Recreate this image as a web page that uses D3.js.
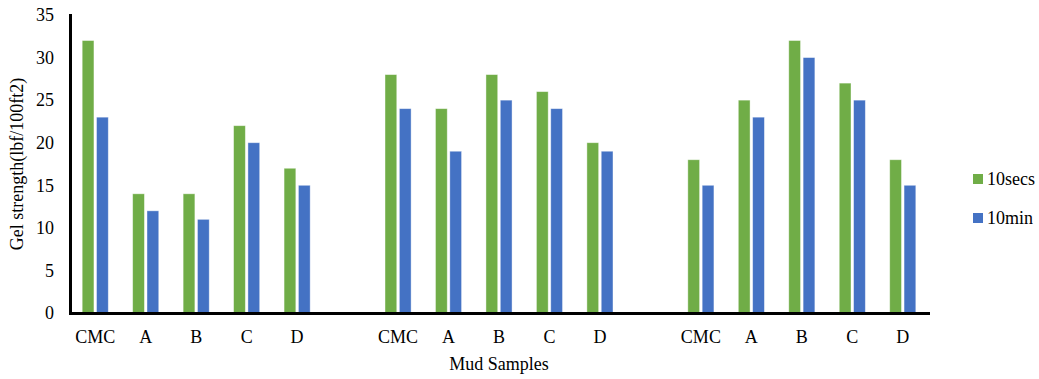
<!DOCTYPE html>
<html>
<head>
<meta charset="utf-8">
<script src="https://cdn.jsdelivr.net/npm/d3@7"></script>
<style>
  body { margin: 0; background: #fff; }
  svg { display: block; font-family: "Liberation Serif", "Times New Roman", serif; }
</style>
</head>
<body>
<svg id="chart"></svg>
<script>
// sample names in each block, three blocks separated by an empty slot
const samples = ["CMC", "A", "B", "C", "D"];
const blocks = ["b1", "b2", "b3"];
const seriesKeys = ["10secs", "10min"];
const secs10 = [32, 14, 14, 22, 17, 28, 24, 28, 26, 20, 18, 25, 32, 27, 18];
const min10 = [23, 12, 11, 20, 15, 24, 19, 25, 24, 19, 15, 23, 30, 25, 15];
const yTicks = [0, 5, 10, 15, 20, 25, 30, 35];
const colors = ["#70AD47", "#4472C4"];

const width = 1039, height = 379;
const marginLeft = 70, marginRight = 111, marginTop = 15, marginBottom = 66;

// build slots: 5 samples, gap, 5 samples, gap, 5 samples
let slots = [];
let rows = [];
blocks.forEach((b, bi) => {
  samples.forEach((s, si) => {
    const i = bi * samples.length + si;
    slots.push(b + "-" + s);
    rows.push({key: b + "-" + s, label: s, values: [secs10[i], min10[i]]});
  });
  if (bi < blocks.length - 1) slots.push("gap" + bi);
});

const x0 = d3.scaleBand(slots, [marginLeft, width - marginRight]);
const x1 = d3.scaleBand(seriesKeys, [0, x0.bandwidth()])
  .paddingInner(0.18).paddingOuter(0.85);
const y = d3.scaleLinear([0, 35], [height - marginBottom, marginTop]);
const color = d3.scaleOrdinal(seriesKeys, colors);

const svg = d3.select("#chart")
  .attr("width", width)
  .attr("height", height)
  .attr("viewBox", [0, 0, width, height]);

// bars
svg.append("g")
  .selectAll("g")
  .data(rows)
  .join("g")
    .attr("transform", d => `translate(${x0(d.key)},0)`)
  .selectAll("rect")
  .data(d => seriesKeys.map((k, i) => ({key: k, value: d.values[i]})))
  .join("rect")
    .attr("x", d => x1(d.key))
    .attr("y", d => y(d.value))
    .attr("width", x1.bandwidth())
    .attr("height", d => y(0) - y(d.value))
    .attr("fill", d => color(d.key))
    .attr("stroke", "#ffffff")
    .attr("stroke-opacity", 0.5)
    .attr("stroke-width", 0.8);

// y axis
svg.append("g")
  .attr("transform", `translate(${marginLeft},0)`)
  .call(d3.axisLeft(y).tickValues(yTicks).tickSize(0).tickSizeOuter(0).tickPadding(16))
  .call(g => g.select(".domain").attr("stroke", "#000").attr("stroke-width", 3).attr("stroke-linecap", "square"))
  .call(g => g.selectAll(".tick text").attr("font-size", 18).attr("fill", "#000")
    .attr("font-family", "Liberation Serif, serif"));

// x axis
const labelOf = new Map(rows.map(d => [d.key, d.label]));
svg.append("g")
  .attr("transform", `translate(0,${y(0)})`)
  .call(d3.axisBottom(x0).tickSize(0).tickSizeOuter(0).tickPadding(17)
    .tickFormat(k => labelOf.get(k) || ""))
  .call(g => g.select(".domain").attr("stroke", "#000").attr("stroke-width", 3).attr("stroke-linecap", "square"))
  .call(g => g.selectAll(".tick text").attr("font-size", 18).attr("fill", "#000")
    .attr("font-family", "Liberation Serif, serif"));

// axis titles
svg.append("text")
  .attr("transform", `translate(17,${(y(0) + y(35)) / 2}) rotate(-90)`)
  .attr("text-anchor", "middle")
  .attr("dy", "0.35em")
  .attr("font-size", 18)
  .attr("fill", "#000")
  .text("Gel strength(lbf/100ft2)");

svg.append("text")
  .attr("x", (marginLeft + width - marginRight) / 2)
  .attr("y", 370)
  .attr("text-anchor", "middle")
  .attr("font-size", 18)
  .attr("fill", "#000")
  .text("Mud Samples");

// legend
const legend = svg.append("g")
  .selectAll("g")
  .data(seriesKeys)
  .join("g")
    .attr("transform", (d, i) => `translate(973,${174 + i * 39})`);

legend.append("rect")
  .attr("width", 10)
  .attr("height", 10)
  .attr("fill", d => color(d));

legend.append("text")
  .attr("x", 14)
  .attr("y", 5)
  .attr("dy", "0.35em")
  .attr("font-size", 18)
  .attr("fill", "#000")
  .text(d => d);
</script>
</body>
</html>
